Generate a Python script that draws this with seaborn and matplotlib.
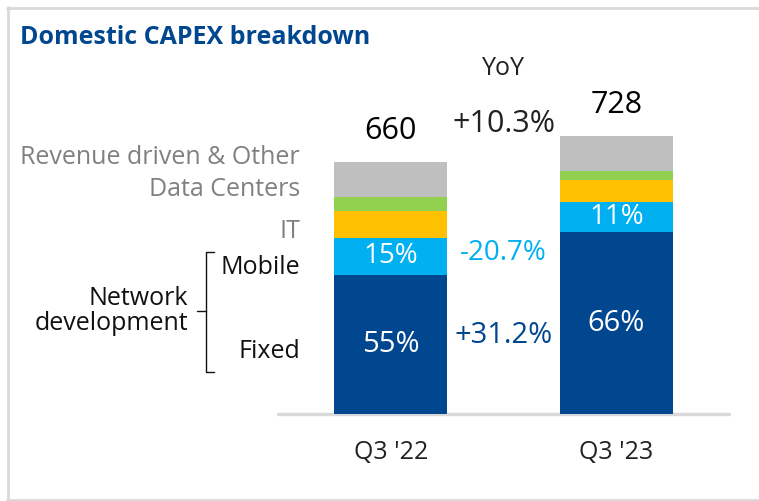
import numpy as np
import pandas as pd
import matplotlib
matplotlib.use("Agg")
import matplotlib.pyplot as plt
from matplotlib.lines import Line2D
import seaborn as sns

# Data (EUR m)
quarters = ["Q3 '22", "Q3 '23"]
fixed = [363, 476]
mobile = [99, 79]
it = [70, 57]
data_centers = [36, 23]
revenue_other = [92, 93]
totals = [660, 728]
fixed_share = ["55%", "66%"]
mobile_share = ["15%", "11%"]
yoy_total = "+10.3%"
yoy_mobile = "-20.7%"
yoy_fixed = "+31.2%"

DARK_BLUE = "#00478f"
LIGHT_BLUE = "#00b0f0"
YELLOW = "#ffc000"
GREEN = "#92d050"
GRAY = "#bfbfbf"
FRAME = "#d9d9d9"

sns.set_style("white")
plt.rcParams["font.family"] = ["Open Sans", "DejaVu Sans"]

W, H = 759, 501
fig = plt.figure(figsize=(W / 100, H / 100), dpi=100)


def px(x, y):
    # pixel position (from top-left) -> figure fraction
    return x / W, 1 - y / H


# axes: x from 278 to 729 px, baseline at 414 px, 0.382 px per unit
scale = 0.382
ymax = 800
ax_left, ax_base = 278, 414
ax_h = ymax * scale
ax = fig.add_axes([ax_left / W, 1 - ax_base / H, (729 - ax_left) / W, ax_h / H])

df = pd.DataFrame({"quarter": quarters, "fixed": fixed, "mobile": mobile, "it": it,
                   "dc": data_centers, "rev": revenue_other})
layers = [("fixed", DARK_BLUE), ("mobile", LIGHT_BLUE), ("it", YELLOW),
          ("dc", GREEN), ("rev", GRAY)]
cum = df[[k for k, _ in layers]].cumsum(axis=1)

# stacked bars: draw cumulative heights from top layer down
for key, color in reversed(layers):
    sns.barplot(x=df["quarter"], y=cum[key], color=color, saturation=1,
                width=0.5, linewidth=0, ax=ax, zorder=2)

ax.set_xlim(-0.5, 1.5)
ax.set_ylim(0, ymax)
ax.axis("off")
ax.axhline(0, color=FRAME, lw=2.5, zorder=1, clip_on=False)

# in-bar labels and totals
for i in range(len(quarters)):
    ax.text(i, fixed[i] / 2, fixed_share[i], ha="center", va="center",
            color="white", fontsize=21)
    ax.text(i, fixed[i] + mobile[i] / 2, mobile_share[i], ha="center", va="center",
            color="white", fontsize=20)
    ax.text(i, totals[i] + 82, str(totals[i]), ha="center", va="center",
            color="black", fontsize=22)
    ax.text(i, -100, quarters[i], ha="center", va="center", color="#222222",
            fontsize=18)

# YoY column
ax.text(0.5, 905, "YoY", ha="center", va="center", fontsize=18, color="#222222")
ax.text(0.5, 760, yoy_total, ha="center", va="center", fontsize=22, color="#222222")
ax.text(0.5, fixed[0] + mobile[0] / 2 + 10, yoy_mobile, ha="center", va="center",
        fontsize=20, color=LIGHT_BLUE)
ax.text(0.5, 205, yoy_fixed, ha="center", va="center", fontsize=21, color=DARK_BLUE)

# title
fig.text(*px(20, 37), "Domestic CAPEX breakdown", ha="left", va="center",
         fontsize=18, fontweight="bold", color=DARK_BLUE)

# category labels on the left
left_labels = [
    ("Revenue driven & Other", 158, "#808080"),
    ("Data Centers", 189, "#808080"),
    ("IT", 231, "#808080"),
    ("Mobile", 268, "#111111"),
    ("Fixed", 352, "#111111"),
]
for txt, y, c in left_labels:
    fig.text(*px(300, y), txt, ha="right", va="center", fontsize=18, color=c)
fig.text(*px(188, 311), "Network\ndevelopment", ha="right", va="center",
         fontsize=18, color="#111111", linespacing=1.0)

# bracket
bx = [214, 206, 206, 214]
by = [252, 252, 372, 372]
fig.add_artist(Line2D([px(x, 0)[0] for x in bx], [px(0, y)[1] for y in by],
                      color="#111111", lw=1.0))
fig.add_artist(Line2D([px(197, 0)[0], px(206, 0)[0]], [px(0, 311)[1]] * 2,
                      color="#111111", lw=1.0))

# frame: top, left, bottom
for xs, ys in [([7, 759], [8, 8]), ([8, 8], [7, 500]), ([7, 759], [500, 500])]:
    fig.add_artist(Line2D([px(x, 0)[0] for x in xs], [px(0, y)[1] for y in ys],
                          color=FRAME, lw=2))

fig.savefig("out.png", dpi=100)
